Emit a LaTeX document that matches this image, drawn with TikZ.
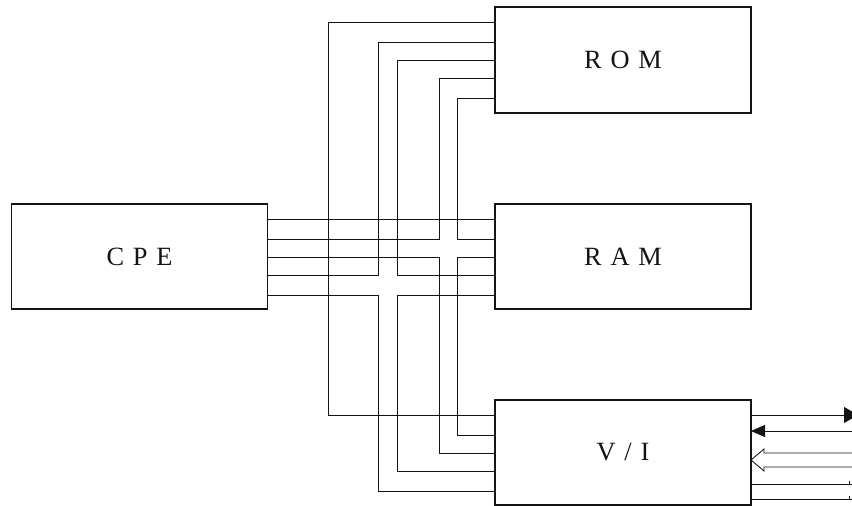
\documentclass[tikz,border=0pt]{standalone}
\usepackage{fontspec}
\setmainfont{Liberation Serif}
\usetikzlibrary{arrows.meta}
\definecolor{BusInk}{gray}{0.08}
\tikzset{
    mp/diagram/.style={
        draw=BusInk,
        text=BusInk,
        line cap=butt,
        line join=miter,
        every node/.style={inner sep=0pt, outer sep=0pt}
    },
    mp/block/.style={
        draw=BusInk, line width=1.05pt,
        minimum width=51.2mm, minimum height=21.1mm,
        font=\fontsize{15}{18}\selectfont
    },
    mp/bus/.style={draw=BusInk, line width=0.5pt},
    mp/out/.style={mp/bus, -{Triangle[length=2.8mm, width=3.2mm]}},
    mp/in/.style={mp/bus, {Triangle[length=2.8mm, width=2.4mm]}-},
    mp/tick/.style={draw=BusInk, line width=0.5pt}
}
\begin{document}
\begin{tikzpicture}[mp/diagram, x=0.2mm, y=-0.2mm]
    \useasboundingbox (0,0) rectangle (852,506);
    \clip (0,0) rectangle (852,506);
    \node[mp/block] (CPE) at (139.5,256.5) {C\,\,P\,\,E};
    \node[mp/block] (ROM) at (623,60) {R\,\,O\,\,M};
    \node[mp/block] (RAM) at (623,256.5) {R\,\,A\,\,M};
    \node[mp/block] (VI)  at (623,452.5) {V\,\,/\,\,I};
    \coordinate (rim) at (852,0);
    \coordinate (rimout) at (858,0);
    % address and data lines; the white crossings come from the corners
    \draw[mp/bus] (ROM.west |- 0,22) -| (328,415) -- (VI.west |- 0,415);
    \draw[mp/bus] (ROM.west |- 0,42) -| (378,275) -- (CPE.east |- 0,275);
    \draw[mp/bus] (ROM.west |- 0,60) -| (397,275) -- (RAM.west |- 0,275);
    \draw[mp/bus] (ROM.west |- 0,78) -| (439,239) -- (CPE.east |- 0,239);
    \draw[mp/bus] (ROM.west |- 0,98) -| (457,239) -- (RAM.west |- 0,239);
    \draw[mp/bus] (CPE.east |- 0,219) -- (RAM.west |- 0,219);
    \draw[mp/bus] (CPE.east |- 0,257) -| (439,453) -- (VI.west |- 0,453);
    \draw[mp/bus] (RAM.west |- 0,257) -| (457,435) -- (VI.west |- 0,435);
    \draw[mp/bus] (CPE.east |- 0,295) -| (378,491) -- (VI.west |- 0,491);
    \draw[mp/bus] (RAM.west |- 0,295) -| (397,471) -- (VI.west |- 0,471);
    % external ports
    \draw[mp/out] (VI.east |- 0,415) -- (rimout |- 0,415);
    \draw[mp/in] (VI.east |- 0,431) -- (rim |- 0,431);
    \draw[mp/bus] (rim |- 0,453) -- (764,453) -- (764,449)
        -- (VI.east |- 0,460) -- (764,471) -- (764,467) -- (rim |- 0,467);
    \draw[mp/bus] (VI.east |- 0,484) -- (rim |- 0,484);
    \draw[mp/bus] (VI.east |- 0,499) -- (rim |- 0,499);
    \draw[mp/tick] (849,484) -- ++(0,-3);
    \draw[mp/tick] (849,499) -- ++(0,-3);
\end{tikzpicture}
\end{document}
